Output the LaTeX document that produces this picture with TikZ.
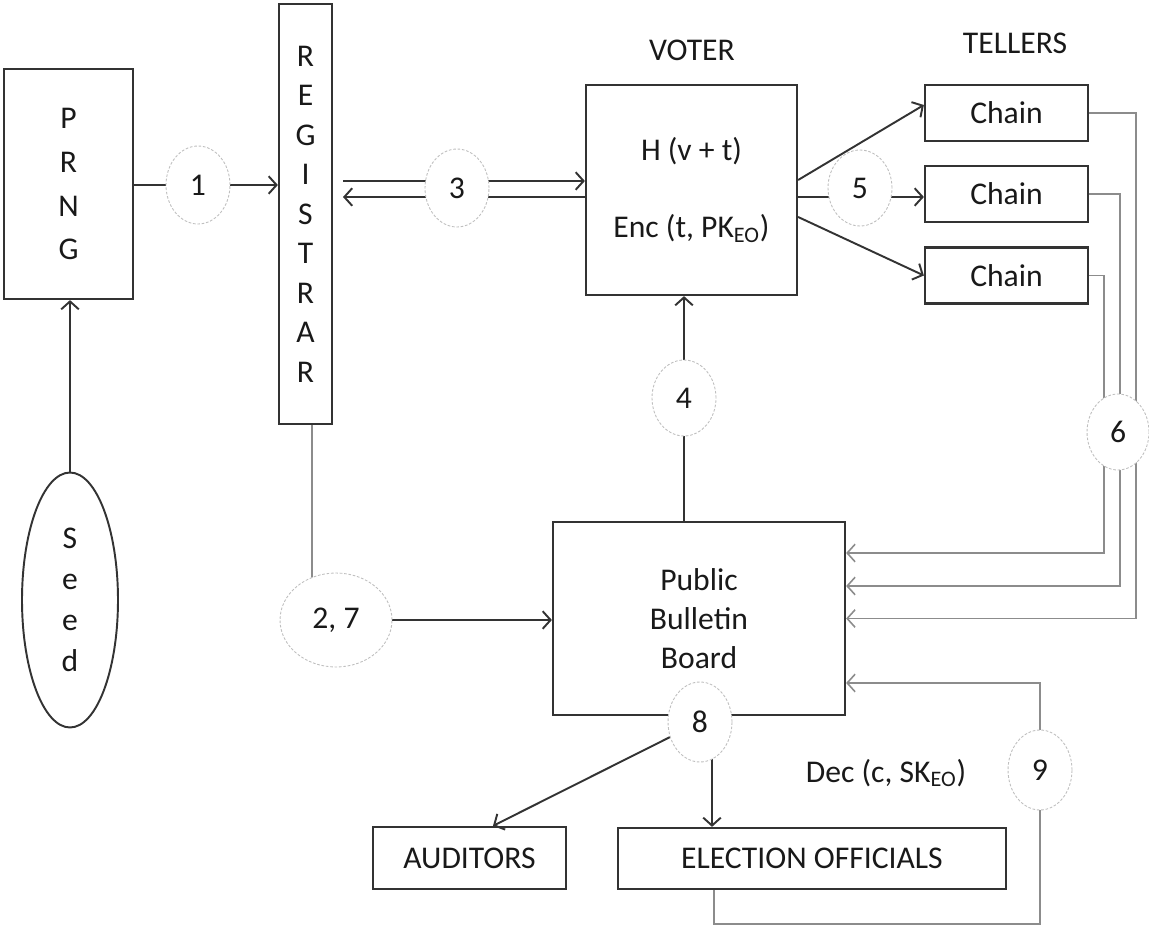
\documentclass[tikz,border=0pt]{standalone}
\usepackage{fontspec}
\setmainfont{Carlito}
\usetikzlibrary{shapes.geometric,backgrounds,arrows.meta}

\begin{document}
\begin{tikzpicture}[x=0.02cm, y=-0.02cm, >={Straight Barb[length=4.5pt, width=10pt]},
    font=\fontsize{18}{22}\selectfont, text=black!90,
    blk/.style={rectangle, draw=black!80, line width=1.3pt, inner sep=0pt},
    tag/.style={ellipse, draw=black!25, dash pattern=on 1.5pt off 1pt, line width=0.5pt, fill=white, inner sep=0pt, minimum width=1.28cm, minimum height=1.56cm},
    link/.style={draw=black!80, line width=1.1pt},
    glink/.style={draw=black!45, line width=0.9pt}]

    \useasboundingbox (0,0) rectangle (1149,926);

    % Left side
    \node[blk, minimum width=2.58cm, minimum height=4.6cm, align=center, font=\fontsize{18}{25}\selectfont] (prng) at (68.5,184) {P\\R\\N\\G};
    \node[ellipse, draw=black!80, line width=1.1pt, inner sep=0pt, minimum width=1.92cm, minimum height=5.1cm, align=center, font=\fontsize{18}{23.3}\selectfont] (seed) at (70,600) {S\\e\\e\\d};
    \node[blk, minimum width=1.06cm, minimum height=8.4cm, align=center, font=\fontsize{18}{22.5}\selectfont] (reg) at (305.5,214) {R\\E\\G\\I\\S\\T\\R\\A\\R};

    \node[tag] (c1) at (198,185) {1};
    \node[tag] (c3) at (457,188) {3};

    % Voter and tellers
    \node (votertitle) at (692,50) {VOTER};
    \node[blk, minimum width=4.22cm, minimum height=4.2cm, align=center] (voter) at (691.5,190) {H (v + t)\\[0.76cm]Enc (t, PK\textsubscript{EO})};

    \node (tellerstitle) at (1015,43) {TELLERS};
    \node[blk, minimum width=3.26cm, minimum height=1.12cm] (ch1) at (1006.5,113) {Chain};
    \node[blk, minimum width=3.26cm, minimum height=1.12cm] (ch2) at (1006.5,194) {Chain};
    \node[blk, minimum width=3.26cm, minimum height=1.12cm] (ch3) at (1006.5,275.5) {Chain};

    \node[tag, minimum height=1.52cm] (c5) at (860,188) {5};
    \node[tag, minimum width=1.24cm, minimum height=1.52cm] (c6) at (1118,432) {6};
    \node[tag, minimum height=1.52cm] (c4) at (684,398) {4};

    % Bulletin board
    \node[blk, minimum width=5.84cm, minimum height=3.86cm, align=center] (board) at (699,618.5) {Public\\Bulletin\\Board};
    \node[tag, minimum width=2.24cm, minimum height=1.88cm] (c27) at (336,620) {2, 7};
    \node[tag, minimum height=1.6cm] (c8) at (700,722) {8};

    % Bottom
    \node[blk, minimum width=3.86cm, minimum height=1.24cm] (aud) at (469.5,858) {AUDITORS};
    \node[blk, minimum width=7.76cm, minimum height=1.22cm] (eo) at (812,858.5) {ELECTION OFFICIALS};
    \node (dec) at (886,773) {Dec (c, SK\textsubscript{EO})};
    \node[tag, minimum height=1.6cm] (c9) at (1040,770) {9};

    \coordinate (r3up) at (343,181);
    \coordinate (r3dn) at (343,197);
    \coordinate (regfoot) at (312,424);
    \coordinate (c8foot) at (712,722);

    \begin{scope}[on background layer]
    \draw[link, ->] (seed.north) -- (seed.north |- prng.south);
    \draw[link, ->] (prng.east |- c1) -- (reg.west |- c1);

    \draw[link, ->] (r3up) -- (r3up -| voter.west);
    \draw[link, <-] (r3dn) -- (r3dn -| voter.west);

    \draw[link, ->] ([yshift=0.2cm]voter.east) -- ([yshift=0.16cm]ch1.west);
    \draw[link, ->] ([yshift=-0.14cm]voter.east) -- ([yshift=-0.14cm]voter.east -| ch2.west);
    \draw[link, ->] ([yshift=-0.54cm]voter.east) -- (ch3.west);

    \draw[link, ->] (c4 |- board.north) -- (c4 |- voter.south);

    \draw[glink, ->] (ch1.east) -- ++(47,0) |- (board.east);
    \draw[glink, ->] (ch2.east) -- ++(31,0) |- ([yshift=0.65cm]board.east);
    \draw[glink, ->] (ch3.east) -- ++(15,0) |- ([yshift=1.31cm]board.east);

    \draw[glink] (regfoot) -- (regfoot |- c27);
    \draw[link, ->] (c27) -- (board.west |- c27);

    \draw[link, ->] (c8) -- ([xshift=0.47cm]aud.north);
    \draw[link, ->] (c8foot) -- (c8foot |- eo.north);

    \draw[glink, ->] ([xshift=-1.96cm]eo.south) -- ++(0,34) -| (c9) |- ([yshift=-1.29cm]board.east);
    \end{scope}

\end{tikzpicture}
\end{document}
